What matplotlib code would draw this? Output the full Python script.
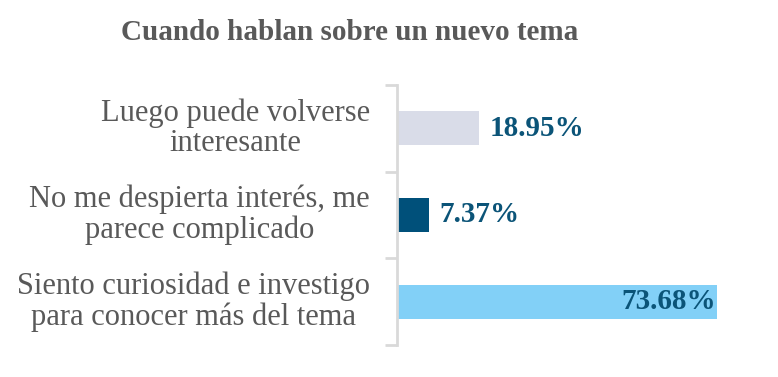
import numpy as np
import matplotlib as mpl
mpl.use("Agg")
import matplotlib.pyplot as plt

title = "Cuando hablan sobre un nuevo tema"
categories = [
    "Luego puede volverse\ninteresante",
    "No me despierta interés, me\nparece complicado",
    "Siento curiosidad e investigo\npara conocer más del tema",
]
values = [18.95, 7.37, 73.68]
bar_colors = ["#D9DCE8", "#00507A", "#82D0F7"]

TEXT_GRAY = "#595959"
VALUE_BLUE = "#0B5478"
AXIS_GRAY = "#D9D9D9"

plt.rcParams["font.family"] = ["Liberation Serif", "DejaVu Serif"]

fig = plt.figure(figsize=(7.78, 3.77), dpi=100)
ax = fig.add_axes([397 / 778, 32 / 377, (744 - 397) / 778, (345 - 85) / 377])

y = np.arange(len(categories))
ax.barh(y, values, height=0.39, color=bar_colors)
ax.set_ylim(len(categories) - 0.5, -0.5)
ax.set_xlim(0, 80)

for yi, v in zip(y, values):
    label = f"{v:.2f}%"
    if v > 50:
        ax.text(v - 0.2, yi, label, ha="right", va="center", fontsize=21,
                fontweight="bold", color=VALUE_BLUE)
    else:
        ax.text(v + 2.5, yi, label, ha="left", va="center", fontsize=21,
                fontweight="bold", color=VALUE_BLUE)

# category labels: right aligned block, lines centred inside it
for yi, cat in zip(y, categories):
    ax.annotate(cat, xy=(0, yi), xycoords=("axes fraction", "data"),
                xytext=(-27, 0), textcoords="offset pixels",
                ha="right", va="center", multialignment="center",
                fontsize=22, color=TEXT_GRAY, linespacing=1.07)

ax.set_yticks([-0.5, 0.5, 1.5, 2.5])
ax.set_yticklabels([])
ax.tick_params(axis="y", length=9, width=2, color=AXIS_GRAY)
ax.set_xticks([])
for side in ["top", "right", "bottom"]:
    ax.spines[side].set_visible(False)
ax.spines["left"].set_color(AXIS_GRAY)
ax.spines["left"].set_linewidth(2)

fig.text(350 / 778, 1 - 33 / 377, title, ha="center", va="center",
         fontsize=21, fontweight="bold", color=TEXT_GRAY)

fig.savefig("out.png", dpi=100)
